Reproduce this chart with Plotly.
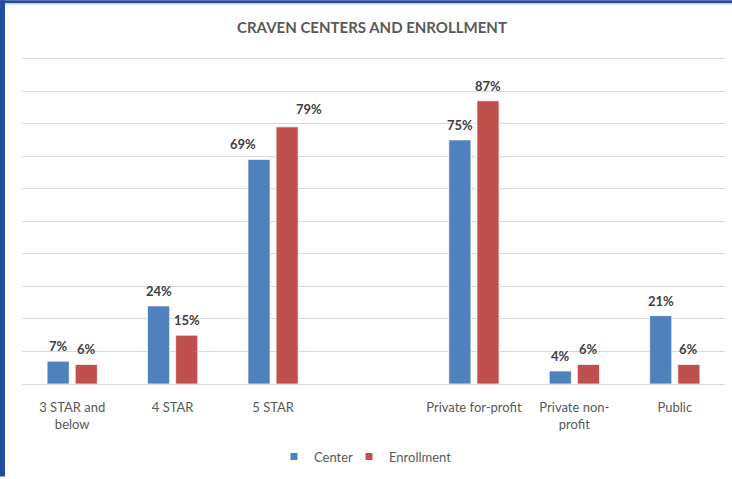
import plotly.graph_objects as go

categories = ["3 STAR and<br>below", "4 STAR", "5 STAR", " ", "Private for-profit", "Private non-<br>profit", "Public"]
center = [7, 24, 69, None, 75, 4, 21]
enrollment = [6, 15, 79, None, 87, 6, 6]
series_names = ["Center", "Enrollment"]

W, H = 732, 479
Y_TOP = 102
ML, MR, MB = 22, 7, 93
BASE = H - MB                      # pixel row of the zero line
MT = 52
PW, PH = W - ML - MR, BASE - MT

def px_x(px):
    return (px - ML) / PW

def px_y(py):
    return (BASE - py) / PH

BLUE = "#4F81BD"
RED = "#C0504D"
FONT = "Lato"

fig = go.Figure()
for name, vals, col in [(series_names[0], center, BLUE), (series_names[1], enrollment, RED)]:
    fig.add_trace(go.Bar(
        x=categories, y=vals, name=name, showlegend=False,
        marker=dict(color=col, line=dict(color="rgba(255,255,255,0.7)", width=1)),
        hoverinfo="skip",
    ))
# legend entries with small square keys
for name, col, lg in [(series_names[0], BLUE, "legend"), (series_names[1], RED, "legend2")]:
    fig.add_trace(go.Scatter(
        x=[None], y=[None], mode="markers", name=name, legend=lg,
        marker=dict(symbol="square", size=7, color=col),
    ))

# data labels (5 STAR labels were nudged outward in the original)
label_dx = {("5 STAR", 0): -16, ("5 STAR", 1): 22}
label_dy = {("5 STAR", 1): 3}
annotations = []
for si, vals in enumerate([center, enrollment]):
    for cat, v in zip(categories, vals):
        if v is None:
            continue
        annotations.append(dict(
            x=cat, y=v, xref="x", yref="y", text=f"<b>{v}%</b>", showarrow=False,
            xshift=(-14 if si == 0 else 14) + label_dx.get((cat, si), 0),
            yshift=15 + label_dy.get((cat, si), 0),
            yanchor="middle", xanchor="center",
            font=dict(family=FONT, size=13, color="#404040"),
        ))

shapes = [
    # blue frame on left and top
    dict(type="rect", xref="paper", yref="paper", x0=px_x(0), x1=px_x(5), y0=px_y(H), y1=px_y(0),
         fillcolor="#1F4E9C", line=dict(width=0), layer="above"),
    dict(type="rect", xref="paper", yref="paper", x0=px_x(0), x1=px_x(W), y0=px_y(3), y1=px_y(0),
         fillcolor="#1F4E9C", line=dict(width=0), layer="above"),
    dict(type="line", xref="paper", yref="paper", x0=px_x(5), x1=px_x(W), y0=px_y(4), y1=px_y(4),
         line=dict(color="#D9D9D9", width=1)),
]

legend_style = dict(orientation="h", yanchor="middle", y=px_y(459), xanchor="left",
                    font=dict(family=FONT, size=13, color="#595959"), itemwidth=30,
                    bgcolor="rgba(0,0,0,0)")

fig.update_layout(
    width=W, height=H,
    margin=dict(l=ML, r=MR, t=MT, b=MB),
    paper_bgcolor="white", plot_bgcolor="white",
    barmode="group", bargap=0.44, bargroupgap=0.214,
    title=dict(text="<b>CRAVEN CENTERS AND ENROLLMENT</b>", x=372 / W, xanchor="center",
               y=1 - 28 / H, yanchor="middle", yref="container",
               font=dict(family=FONT, size=15, color="#595959")),
    xaxis=dict(type="category", categoryorder="array", categoryarray=categories,
               showgrid=False, showline=False, ticks="", zeroline=False,
               ticklabelstandoff=14,
               tickfont=dict(family=FONT, size=13, color="#595959")),
    yaxis=dict(range=[0, Y_TOP], tickvals=list(range(0, 101, 10)), showticklabels=False,
               gridcolor="#D9D9D9", gridwidth=1,
               zeroline=True, zerolinecolor="#D9D9D9", zerolinewidth=1, showline=False, ticks=""),
    legend=dict(legend_style, x=px_x(314 - 40)),
    legend2=dict(legend_style, x=px_x(389 - 40)),
    annotations=annotations,
    shapes=shapes,
)

fig.write_html("out.html")
